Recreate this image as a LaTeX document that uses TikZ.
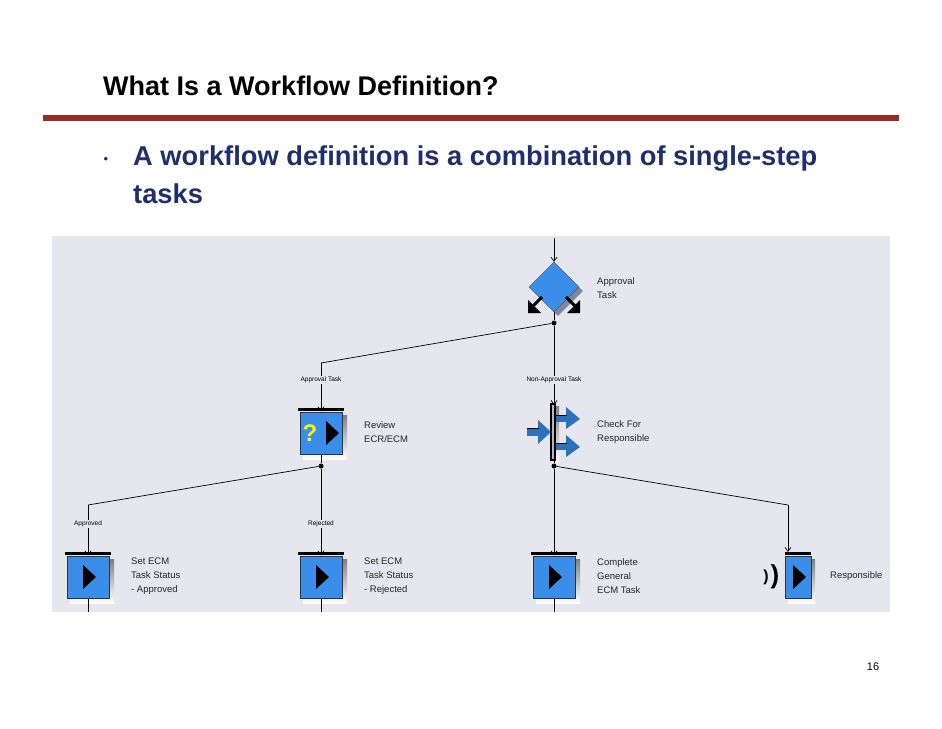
\documentclass[tikz,border=0pt]{standalone}
\usepackage{fontspec}
\setmainfont{Liberation Sans}
\usetikzlibrary{arrows.meta,shapes.geometric,calc}
\definecolor{panel}{HTML}{E6E7EE}
\definecolor{rulered}{HTML}{9B2A22}
\definecolor{navy}{HTML}{1F2F6B}
\definecolor{iconblue}{HTML}{3A8EEA}
\definecolor{shade}{HTML}{7F8799}
\tikzset{
  lbl/.style={font=\fontsize{9.5}{14}\selectfont, text=black!85, align=left, anchor=west, inner sep=0},
  tiny/.style={font=\fontsize{6.5}{7}\selectfont, inner sep=0.5pt},
  conn/.style={draw=black, line width=0.7pt},
  arr/.style={conn, -{Straight Barb[length=4pt,width=6pt]}},
  dot/.style={circle, fill=black, inner sep=0, minimum size=5pt},
  taskbox/.style={draw=black!80, line width=1pt, fill=iconblue, minimum width=42pt, minimum height=42pt, inner sep=0},
}
\begin{document}
\begin{tikzpicture}[x=1pt,y=-1pt]
\useasboundingbox (0,0) rectangle (942,728);
\fill[white] (0,0) rectangle (942,728);
\node[anchor=base west, font=\bfseries\fontsize{27}{30}\selectfont, xscale=1.0, inner sep=0] (title) at (103,95) {What Is a Workflow Definition?};
\fill[rulered] (43,115) rectangle (899,121);
\node[font=\fontsize{13}{13}\selectfont, text=navy, anchor=base, inner sep=0] (bul) at (106,163) {•};
\node[anchor=base west, text=navy, font=\bfseries\fontsize{27.3}{30}\selectfont, inner sep=0] (bt1) at (133,165) {A workflow definition is a combination of single-step};
\node[anchor=base west, text=navy, font=\bfseries\fontsize{27.3}{30}\selectfont, inner sep=0] (bt2) at (133,203) {tasks};
\fill[panel] (52,236) rectangle (890,612);

% approval diamond
\coordinate (top) at (554,238);
\node[diamond, fill=shade, minimum width=50pt, minimum height=50pt, inner sep=0] (apprs) at (558,291) {};
\node[diamond, draw=black!70, fill=iconblue, minimum width=50pt, minimum height=50pt, inner sep=0] (appr) at (554,287) {};
\draw[black, line width=3pt] (542,297) -- (531,308);
\draw[black, line width=3pt] (566,297) -- (577,308);
\fill[black] (528,300) -- (528,313) -- (541,313) -- cycle;
\fill[black] (580,300) -- (580,313) -- (567,313) -- cycle;
\node[lbl] (apprl) at (597,288) {Approval\\Task};
\draw[arr] (top) -- (appr.north);
\node[dot] (d1) at (554,323) {};
\draw[conn] (appr.south) -- (d1);

% review
\fill[shade] (303,415) rectangle (347,459);
\node[taskbox] (rev) at (321,433) {};
\fill[black] (298,408) rectangle (344,411);
\node[text=yellow, font=\bfseries\fontsize{24}{24}\selectfont, inner sep=0] (q) at (310,433) {?};
\fill[black] (326,421) -- (339,433) -- (326,445) -- cycle;
\node[lbl] (revl) at (364,432) {Review\\ECR/ECM};
\coordinate (c1) at (321,363);
\draw[conn] (d1) -- (c1);
\draw[arr] (c1) -- (rev.north);
\node[tiny, fill=panel] (l1) at (321,380) {Approval Task};

% check for responsible
\draw[arr] (d1) -- (554,405);
\node[tiny, fill=panel] (l2) at (554,380) {Non-Approval Task};
\fill[shade] (555,406) rectangle (559,462);
\draw[black, line width=1.2pt, fill=shade!60] (551,404) rectangle (555,460);
\foreach \yy in {419,447}{
  \fill[iconblue!80!black] (556,\yy-4) rectangle (568,\yy+3);
  \fill[iconblue!80!black] (566,\yy-12) -- (580,\yy) -- (566,\yy+10) -- cycle;
  \draw[black, line width=1pt] (556,\yy-4) -- (567,\yy-4);
}
\fill[iconblue!80!black] (527,428) rectangle (540,436);
\fill[iconblue!80!black] (538,420) -- (551,432) -- (538,444) -- cycle;
\draw[black, line width=1pt] (527,428) -- (539,428);
\node[lbl] (chkl) at (597,432) {Check For\\Responsible};

% lower dots
\node[dot] (d2) at (321,466) {};
\node[dot] (d3) at (554,466) {};
\draw[conn] (rev.south) -- (d2);
\draw[conn] (554,460) -- (d3);
\coordinate (c2) at (88,505);
\coordinate (c3) at (788,505);
\draw[conn] (d2) -- (c2);
\draw[conn] (d3) -- (c3);

% bottom boxes
\foreach \n/\xx in {b1/88,b2/321,b3/554}{
  \fill[shade] (\xx-18,559) rectangle (\xx+26,603);
  \node[taskbox] (\n) at (\xx,577) {};
  \fill[black] (\xx-23,552) rectangle (\xx+23,555);
  \fill[black] (\xx-5,565) -- (\xx+8,577) -- (\xx-5,589) -- cycle;
  \draw[conn] (\xx,599) -- (\xx,612);
}
\fill[shade] (788,559) rectangle (815,603);
\node[taskbox, minimum width=26pt] (b4) at (798,577) {};
\fill[black] (785,552) rectangle (811,555);
\fill[black] (793,565) -- (806,577) -- (793,589) -- cycle;
\node[font=\bfseries\fontsize{16}{16}\selectfont, inner sep=0] (s1) at (766,577) {)};
\node[font=\bfseries\fontsize{26}{26}\selectfont, inner sep=0] (s2) at (775,577) {)};

\draw[arr] (c2) -- (b1.north);
\draw[arr] (d2) -- (b2.north);
\draw[arr] (d3) -- (b3.north);
\draw[arr] (c3) -- (788,552);
\node[tiny, fill=panel] (l3) at (88,524) {Approved};
\node[tiny, fill=panel] (l4) at (321,524) {Rejected};

\node[lbl] (t1) at (131,576) {Set ECM\\Task Status\\- Approved};
\node[lbl] (t2) at (364,576) {Set ECM\\Task Status\\- Rejected};
\node[lbl] (t3) at (597,576) {Complete\\General\\ECM Task};
\node[lbl] (t4) at (830,576) {Responsible};

\node[font=\fontsize{11}{12}\selectfont] (pg) at (873,667) {16};
\end{tikzpicture}
\end{document}
